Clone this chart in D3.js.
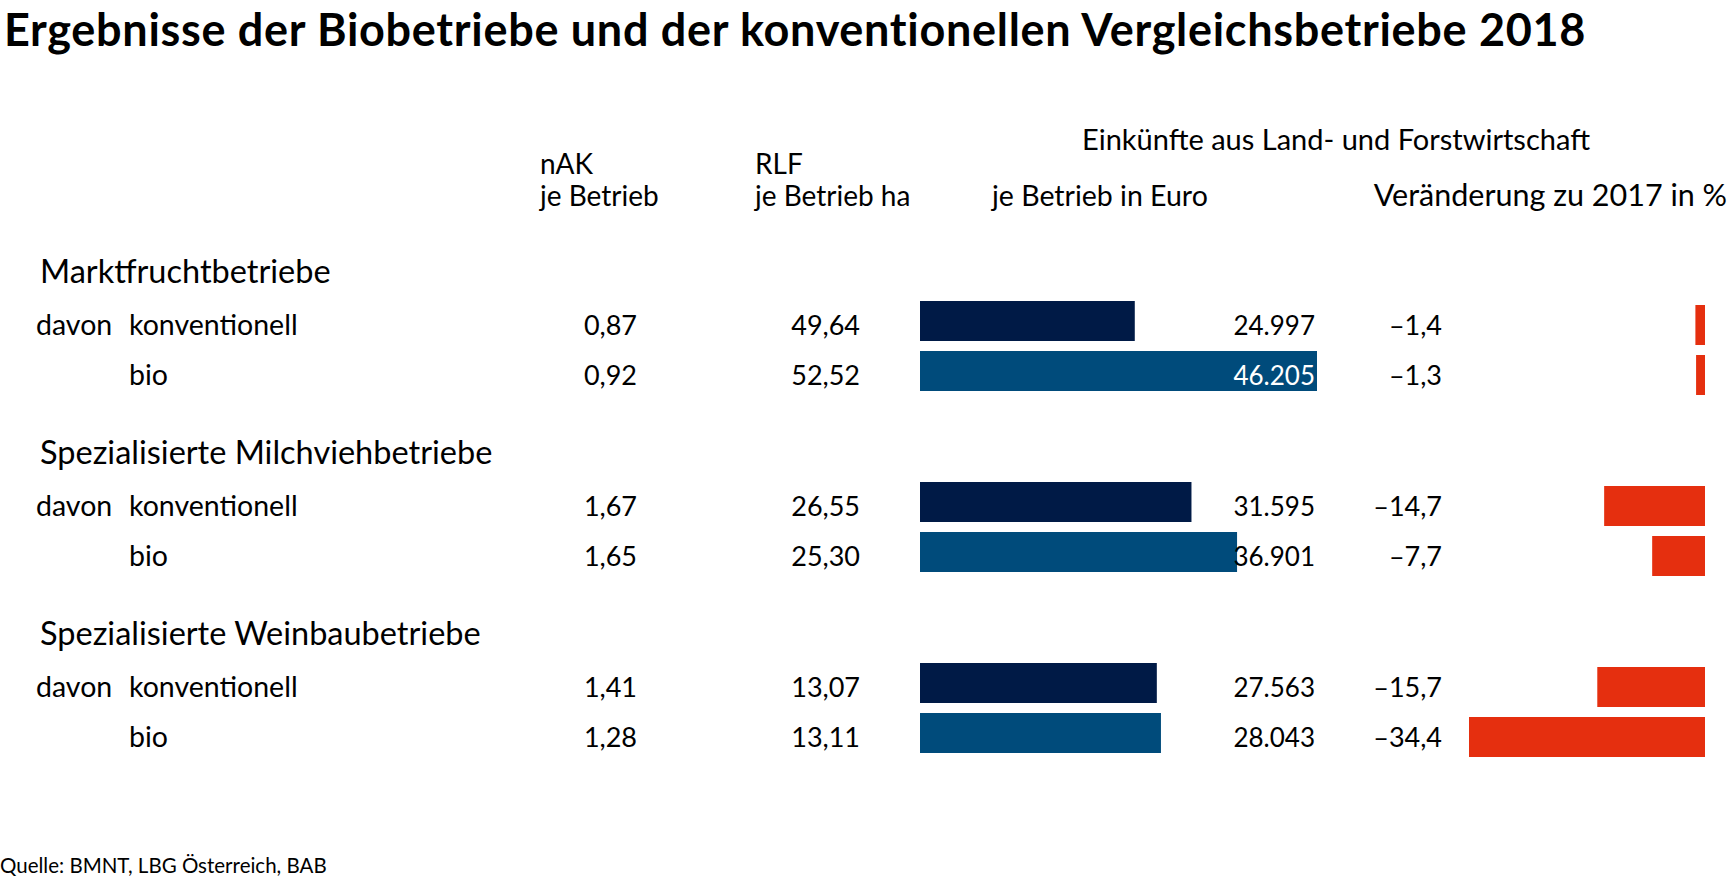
<!DOCTYPE html>
<html><head><meta charset="utf-8">
<script src="https://cdn.jsdelivr.net/npm/d3@7"></script>
<style>body{margin:0;background:#fff} text{font-family:Lato, sans-serif; fill:#000}</style>
</head><body><svg id="c" width="1729" height="879"></svg>
<script>
const title = "Ergebnisse der Biobetriebe und der konventionellen Vergleichsbetriebe 2018";
const source = "Quelle: BMNT, LBG Österreich, BAB";
const groups = ["Marktfruchtbetriebe", "Spezialisierte Milchviehbetriebe", "Spezialisierte Weinbaubetriebe"];
const types = ["konventionell", "bio"];
const nAK = [0.87, 0.92, 1.67, 1.65, 1.41, 1.28];
const rlf = [49.64, 52.52, 26.55, 25.30, 13.07, 13.11];
const einkuenfte = [24997, 46205, 31595, 36901, 27563, 28043];
const veraenderung = [-1.4, -1.3, -14.7, -7.7, -15.7, -34.4];
const headers = {
  nak: ["nAK", "je Betrieb"],
  rlf: ["RLF", "je Betrieb ha"],
  eink: "Einkünfte aus Land- und Forstwirtschaft",
  euro: "je Betrieb in Euro",
  pct: "Veränderung zu 2017 in %"
};

const loc = d3.formatLocale({decimal: ",", thousands: ".", grouping: [3], currency: ["", "€"], minus: "\u2013"});
const f2 = loc.format(".2f"), f0 = loc.format(",.0f"), f1 = loc.format(".1f");

const svg = d3.select("#c");
const FS = 27;

const rows = groups.flatMap((g, gi) => types.map((t, ti) => ({g, t, ti, i: gi * 2 + ti})));

const gy = d3.scaleBand().domain(groups).range([228, 771]);
const ry = d3.scaleBand().domain(types).range([73, 163]).paddingInner(0.2);
const xE = d3.scaleLinear().domain([0, d3.max(einkuenfte)]).range([920, 1317]);
const xP = d3.scaleLinear().domain([0, d3.max(veraenderung, v => Math.abs(v))]).range([1705, 1469]);

// title
svg.append("text").attr("x", 4).attr("y", 46).attr("font-size", 45).attr("letter-spacing", 0.7)
  .attr("font-weight", 700).text(title);
// source
svg.append("text").attr("x", 0).attr("y", 873).attr("font-size", 20.5).text(source);

// headers
const hdr = (x, y, t, fs, anchor="start") => svg.append("text").attr("x", x).attr("y", y).attr("font-size", fs).attr("text-anchor", anchor).text(t);
hdr(540, 174, headers.nak[0], 28); hdr(540, 206, headers.nak[1], 28);
hdr(755, 174, headers.rlf[0], 28); hdr(755, 206, headers.rlf[1], 28);
hdr(1082, 150, headers.eink, 29);
hdr(992, 206, headers.euro, 28.5);
hdr(1727, 206, headers.pct, 30.5, "end");

// group labels
svg.selectAll("text.grp").data(groups).join("text").attr("class", "grp")
  .attr("x", 40).attr("y", d => gy(d) + 55).attr("font-size", 32.5).text(d => d);

const rowG = svg.selectAll("g.row").data(rows).join("g").attr("class", "row")
  .attr("transform", d => `translate(0,${gy(d.g) + ry(d.t)})`);
const bh = ry.bandwidth();
const base = bh / 2 + 14;

rowG.filter(d => d.ti === 0).append("text").attr("x", 36).attr("y", base).attr("font-size", 28.5).text("davon");
rowG.append("text").attr("x", 129).attr("y", base).attr("font-size", 28.5).text(d => d.t);
rowG.append("text").attr("x", 637).attr("y", base).attr("font-size", FS).attr("text-anchor", "end").text(d => f2(nAK[d.i]));
rowG.append("text").attr("x", 860).attr("y", base).attr("font-size", FS).attr("text-anchor", "end").text(d => f2(rlf[d.i]));

rowG.append("rect").attr("x", xE(0)).attr("y", 0).attr("height", bh)
  .attr("width", d => xE(einkuenfte[d.i]) - xE(0))
  .attr("fill", d => d.ti === 0 ? "#001a46" : "#004b7b");
rowG.append("text").attr("x", 1315).attr("y", base).attr("font-size", 26).attr("text-anchor", "end")
  .style("fill", d => xE(einkuenfte[d.i]) >= 1315 ? "#fff" : "#000")
  .text(d => f0(einkuenfte[d.i]));

rowG.append("text").attr("x", 1442).attr("y", base).attr("font-size", FS).attr("text-anchor", "end").text(d => f1(veraenderung[d.i]));
rowG.append("rect").attr("y", 4).attr("height", bh)
  .attr("x", d => xP(Math.abs(veraenderung[d.i])))
  .attr("width", d => xP(0) - xP(Math.abs(veraenderung[d.i])))
  .attr("fill", "#e52f0f");
</script></body></html>
